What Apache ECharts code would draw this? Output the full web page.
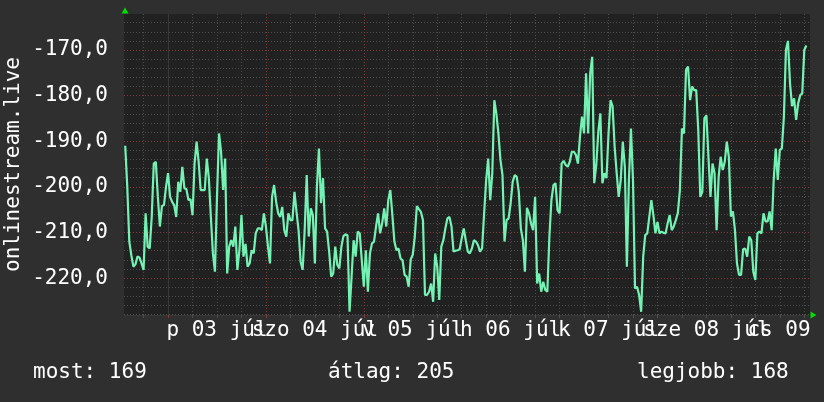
<!DOCTYPE html>
<html>
<head>
<meta charset="utf-8">
<script src="https://cdn.jsdelivr.net/npm/echarts@6/dist/echarts.min.js"></script>
<style>
html,body{margin:0;padding:0;background:#2f2f2f;}
#c{width:824px;height:402px;}
</style>
</head>
<body>
<div id="c"></div>
<script>
// ---- data (hours relative to 00:00, 03 Jul; one sample every 30 min) ----
const START_HOUR = -10.5;
const STEP_HOUR = 0.5;
const values = [
-191.0,-200.0,-212.0,-215.0,-217.5,-217.0,-215.3,-215.5,-216.8,-218.2,
-205.8,-213.1,-213.5,-206.6,-194.9,-194.5,-202.2,-208.7,-204.2,-204.0,
-200.0,-197.0,-202.2,-203.3,-204.0,-206.6,-198.9,-201.1,-195.6,-200.3,
-200.5,-202.9,-202.7,-206.2,-194.9,-190.1,-194.5,-200.7,-200.7,-200.7,
-193.8,-198.1,-206.6,-214.6,-218.6,-202.2,-188.3,-192.3,-200.7,-193.8,
-219.0,-213.1,-211.7,-213.1,-208.7,-218.2,-213.9,-206.2,-215.3,-212.5,
-217.5,-216.8,-213.9,-214.6,-210.2,-209.1,-209.1,
-209.5,-205.8,-208.7,-213.1,-216.8,-202.2,-199.6,-203.3,-205.8,-206.6,
-204.4,-209.5,-210.9,-205.8,-207.3,-207.3,-201.1,-205.5,-209.5,-216.4,
-218.2,-209.5,-197.4,-210.9,-204.7,-206.2,-216.8,-200.0,-191.6,-203.6,
-198.1,-209.1,-209.8,-214.2,-219.7,-219.0,-213.1,-217.1,-217.9,-213.1,
-210.8,-210.4,-210.6,-227.4,-219.7,-211.7,-215.3,-209.8,-210.2,-216.0,
-221.9,-213.9,-223.0,-214.6,-212.4,-212.0,-208.7,-205.8,-210.2,-208.0,
-204.7,-208.7,-202.9,-200.7,-206.2,-212.0,-213.9,
-213.5,-215.7,-216.1,-219.3,-219.7,-221.9,-215.9,-214.9,-210.9,-204.2,
-204.9,-205.5,-207.3,-223.7,-223.7,-223.0,-221.2,-225.2,-214.6,-217.5,
-224.8,-213.1,-211.7,-209.1,-206.9,-206.6,-208.7,-214.2,-214.0,-213.9,
-213.7,-211.3,-209.1,-211.7,-214.2,-214.6,-213.5,-211.7,-212.0,-212.8,
-214.2,-213.5,-205.8,-198.5,-193.8,-202.9,-197.0,-181.0,-184.0,-188.3,
-194.1,-197.4,-212.0,-207.3,-206.9,-203.6,-198.9,-197.4,-197.8,-201.1,
-209.1,-211.7,-218.6,-204.6,-205.8,-208.0,-209.5,-202.2,
-221.2,-219.0,-223.0,-220.8,-222.6,-223.0,-210.9,-202.9,-199.6,-199.2,
-205.1,-205.8,-194.9,-194.3,-195.2,-195.6,-194.5,-192.3,-192.3,-193.0,
-194.9,-189.0,-184.6,-188.3,-175.1,-188.3,-175.1,-171.5,-199.2,-195.2,
-187.9,-183.9,-199.2,-197.0,-198.1,-188.3,-181.0,-182.4,-191.2,-197.0,
-202.2,-198.5,-190.1,-195.6,-217.5,-198.5,-187.2,-198.5,-222.3,-221.9,
-223.7,-227.4,-215.3,-210.6,-210.2,-206.6,-202.9,-206.2,-210.2,-207.7,
-210.2,-209.8,-210.1,-210.2,-208.0,-206.2,-209.5,-208.7,
-207.3,-205.7,-200.7,-187.2,-188.3,-174.4,-173.6,-181.0,-178.0,-178.8,
-178.8,-187.5,-202.2,-201.1,-185.0,-184.3,-193.4,-202.2,-194.9,-197.0,
-209.5,-197.8,-193.4,-196.3,-194.5,-190.1,-193.4,-206.5,-205.4,-209.5,
-216.8,-219.3,-219.3,-213.7,-213.5,-215.3,-210.9,-211.7,-218.6,-220.4,
-210.2,-209.8,-210.2,-205.8,-207.6,-207.6,-205.4,-209.5,-198.5,-191.6,
-198.5,-191.9,-191.6,-184.6,-170.0,-168.0,-177.3,-182.3,-180.6,-185.3,
-181.7,-179.9,-179.5,-170.0,-169.0
];

// axis extents and tick positions
const X_MIN = -10.8, X_MAX = 157.4;
const Y_MIN = -228.1, Y_MAX = -162.1;
const majorX = [0, 24, 48, 72, 96, 120, 144];
const minorX = [-6, 6, 12, 18, 30, 36, 42, 54, 60, 66, 78, 84, 90, 102, 108, 114, 126, 132, 138, 150, 156];
const labelX = [12, 36, 60, 84, 108, 132, 156];
const dayLabels = ['p 03 júl', 'szo 04 júl', 'v 05 júl', 'h 06 júl', 'k 07 júl', 'sze 08 júl', 'cs 09 júl'];
const majorY = [-220, -210, -200, -190, -180, -170];
const minorY = [-228, -226, -224, -222, -218, -216, -214, -212, -208, -206, -204, -202, -198, -196, -194, -192, -188, -186, -184, -182, -178, -176, -174, -172, -168, -166, -164];
const yTitle = 'onlinestream.live';
const legendTexts = ['most: 169', 'átlag: 205', 'legjobb: 168'];

const FONT = '"DejaVu Sans Mono", "Liberation Mono", monospace';
const GRID_MINOR = '#4c4c4c';
const GRID_MAJOR = '#803c3c';

const seriesData = values.map((v, i) => [START_HOUR + i * STEP_HOUR, v]);

// one label-only x axis per day label, so no label gets dropped for overlapping
const labelAxes = labelX.map((pos, k) => ({
  type: 'value', min: X_MIN, max: X_MAX, position: 'bottom',
  axisLine: {show: false},
  axisTick: {show: false, customValues: [pos]},
  splitLine: {show: false},
  axisLabel: {
    show: true, customValues: [pos], margin: 5, color: '#ffffff',
    fontFamily: FONT, fontSize: 21, hideOverlap: false,
    showMinLabel: true, showMaxLabel: true,
    formatter: () => dayLabels[k]
  }
}));

const chart = echarts.init(document.getElementById('c'), null, {renderer: 'canvas'});
chart.setOption({
  backgroundColor: '#2f2f2f',
  animation: false,
  grid: {
    left: 124, top: 14, width: 686, height: 301,
    containLabel: false, outerBoundsMode: 'none',
    show: true, backgroundColor: '#212121', borderWidth: 0
  },
  xAxis: [
    {
      type: 'value', min: X_MIN, max: X_MAX, position: 'bottom',
      axisLine: {show: true, lineStyle: {color: '#383838', width: 1}},
      axisTick: {show: true, customValues: minorX, length: 3, lineStyle: {color: GRID_MINOR}},
      splitLine: {show: true, lineStyle: {color: GRID_MINOR, type: [1, 2], width: 1}},
      axisLabel: {show: false}
    },
    {
      type: 'value', min: X_MIN, max: X_MAX, position: 'bottom',
      axisLine: {show: false},
      axisTick: {show: true, customValues: majorX, length: 3, lineStyle: {color: GRID_MAJOR}},
      splitLine: {show: true, lineStyle: {color: GRID_MAJOR, type: [1, 2], width: 1}},
      axisLabel: {show: false}
    }
  ].concat(labelAxes),
  yAxis: [
    {
      type: 'value', min: Y_MIN, max: Y_MAX, position: 'left',
      axisLine: {show: true, lineStyle: {color: '#383838', width: 1}},
      axisTick: {show: false, customValues: minorY},
      splitLine: {show: true, lineStyle: {color: GRID_MINOR, type: [1, 2], width: 1}},
      axisLabel: {show: false},
      name: yTitle, nameLocation: 'middle', nameGap: 100,
      nameTextStyle: {color: '#ffffff', fontFamily: FONT, fontSize: 21}
    },
    {
      type: 'value', min: Y_MIN, max: Y_MAX, position: 'left',
      axisLine: {show: false},
      axisTick: {show: false, customValues: majorY},
      splitLine: {show: true, lineStyle: {color: GRID_MAJOR, type: [1, 2], width: 1}},
      axisLabel: {
        show: true, customValues: majorY, margin: 16, color: '#ffffff',
        fontFamily: FONT, fontSize: 21,
        formatter: v => v.toFixed(1).replace('.', ',')
      }
    }
  ],
  series: [{
    type: 'line', xAxisIndex: 0, yAxisIndex: 0,
    data: seriesData, showSymbol: false, symbol: 'none', smooth: false,
    lineStyle: {color: '#74f2b4', width: 2.2},
    silent: true, z: 5
  }],
  graphic: [
    {type: 'polygon', shape: {points: [[121.5, 13.5], [128.5, 13.5], [125, 7.5]]}, style: {fill: '#00dd00'}, silent: true},
    {type: 'polygon', shape: {points: [[810.5, 311.5], [810.5, 318.5], [816.5, 315]]}, style: {fill: '#00dd00'}, silent: true},
    {type: 'text', left: 33, top: 362, style: {text: legendTexts[0], fill: '#ffffff', font: '21px ' + FONT}},
    {type: 'text', left: 328, top: 362, style: {text: legendTexts[1], fill: '#ffffff', font: '21px ' + FONT}},
    {type: 'text', left: 637, top: 362, style: {text: legendTexts[2], fill: '#ffffff', font: '21px ' + FONT}}
  ]
});
</script>
</body>
</html>
